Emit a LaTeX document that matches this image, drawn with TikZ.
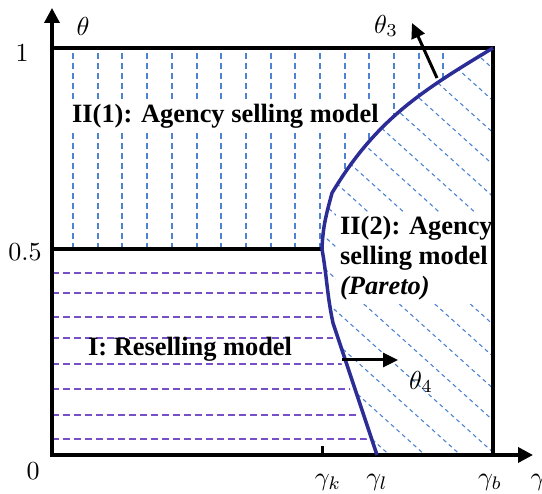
\documentclass[tikz,border=0pt]{standalone}
\usepackage{amsmath}
\usepackage{fontspec}
\setmainfont{Liberation Serif}
\usetikzlibrary{arrows.meta}

\definecolor{curveblue}{RGB}{44,44,150}
\definecolor{hatchblue}{RGB}{78,130,210}
\definecolor{hatchpurple}{RGB}{118,80,196}

\tikzset{
  axisline/.style={line width=3.5pt, {Triangle[length=15pt,width=15pt]}-{Triangle[length=15pt,width=15pt]}},
  frame/.style={line width=3.5pt},
  frontier/.style={line width=3.5pt, curveblue},
  pointer/.style={line width=3pt, -{Triangle[length=15pt,width=14pt]}},
  vhatch/.style={hatchblue, line width=1.4pt, dash pattern=on 6pt off 4pt},
  hhatch/.style={hatchpurple, line width=1.4pt, dash pattern=on 7pt off 4pt},
  dhatch/.style={hatchblue, line width=1.1pt, dash pattern=on 4pt off 3.5pt},
  lbl/.style={inner sep=0pt, scale=2.6},
  region/.style={font=\fontsize{26.4}{30}\selectfont\bfseries}
}

\begin{document}
\begin{tikzpicture}[x=1pt,y=1pt]
\useasboundingbox (-52,-39) rectangle (490,455);

\coordinate (O) at (0,0);
\coordinate (Ytop) at (0,447);
\coordinate (Xend) at (481,0);
\coordinate (half) at (0,206);
\coordinate (one) at (0,407);
\coordinate (kTick) at (270,0);
\coordinate (kTop) at (270,9);
\coordinate (B) at (441,0);
\coordinate (TR) at (441,407);

% points on the boundary curve
\coordinate (gl) at (325,0);
\coordinate (p1) at (281,132);
\coordinate (gk) at (270,206);
\coordinate (kn) at (280,262);

% II(1): vertical hatching
\begin{scope}
\clip (half) -- (gk) to[out=88,in=-105] (kn) to[out=59,in=211] (TR) -- (one) -- cycle;
\foreach \x in {21,46,70,95,120,145,169,194,219,243,268,293,317,342,367,391}
  \draw[vhatch] (\x,206) -- (\x,407);
\end{scope}

% I: horizontal hatching
\begin{scope}
\clip (O) -- ([xshift=-5pt]gl) -- ([xshift=-5pt]p1) to[out=102,in=-80] ([xshift=-3pt]gk) -- (half) -- cycle;
\foreach \y in {16,40,66,91,117,138,162,182}
  \draw[hhatch] (0,\y) -- (400,\y);
\end{scope}

% II(2): slanted hatching
\begin{scope}
\clip (gl) -- (p1) to[out=102,in=-80] (gk) to[out=88,in=-105] (kn) to[out=59,in=211] (TR) -- (B) -- cycle;
\foreach \k in {-3,...,15}
  \draw[dhatch] (373+35.5*\k-452,407) -- (373+35.5*\k,0);
\end{scope}

\node[region, fill=white, inner sep=4pt, anchor=base west] (agency1) at (16,332) {II(1): Agency selling model};
\node[region, fill=white, inner sep=4pt, anchor=north west, align=left] (agency2) at (284,243) {II(2): Agency\\selling model\\\textit{(Pareto)}};
\node[region, inner sep=0pt, anchor=base west] (resell) at (36,99) {I: Reselling model};

\draw[frame] (one) -- (TR) -- (B);
\draw[frame] (half) -- (gk);
\draw[line width=3pt] (kTick) -- (kTop);
\draw[axisline] (Ytop) -- (O) -- (Xend);

\draw[frontier] (gl) -- (p1) to[out=102,in=-80] (gk) to[out=88,in=-105] (kn) to[out=59,in=211] (TR);

% the two arrows
\coordinate (t3foot) at (385,377);
\coordinate (t3tip) at (360,432);
\draw[pointer] (t3foot) -- (t3tip);
\node[lbl] (th3) at (334,429) {$\theta_3$};

\coordinate (t4foot) at (290,95);
\coordinate (t4tip) at (346,95);
\draw[pointer] (t4foot) -- (t4tip);
\node[lbl] (th4) at (369,73) {$\theta_4$};

% axis labels
\node[lbl] (thaxis) at (31,429) {$\theta$};
\node[lbl] (v1) at (-30,402) {$1$};
\node[lbl] (v05) at (-27,203) {$0.5$};
\node[lbl] (v0) at (-19,-16) {$0$};
\node[lbl, anchor=base] (gmk) at (276,-31) {$\gamma_k$};
\node[lbl, anchor=base] (gml) at (325,-31) {$\gamma_l$};
\node[lbl, anchor=base] (gmb) at (438,-31) {$\gamma_b$};
\node[lbl, anchor=base west] (gm) at (478,-31) {$\gamma$};
\end{tikzpicture}
\end{document}
